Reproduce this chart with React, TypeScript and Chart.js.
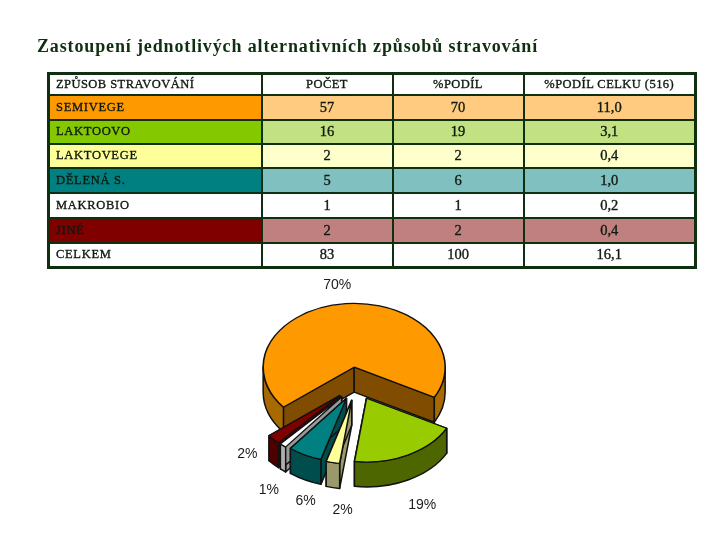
import React, { useEffect, useRef } from "react";
import { Chart, registerables } from "chart.js";

Chart.register(...registerables);

const title = "Zastoupení jednotlivých alternativních způsobů stravování";
const headers = ["ZPŮSOB STRAVOVÁNÍ", "POČET", "%PODÍL", "%PODÍL CELKU (516)"];
const categories = ["SEMIVEGE", "LAKTOOVO", "LAKTOVEGE", "DĚLENÁ S.", "MAKROBIO", "JINÉ", "CELKEM"];
const counts = ["57", "16", "2", "5", "1", "2", "83"];
const shares = ["70", "19", "2", "6", "1", "2", "100"];
const totalShares = ["11,0", "3,1", "0,4", "1,0", "0,2", "0,4", "16,1"];

const pieLabels = ["SEMIVEGE", "LAKTOOVO", "LAKTOVEGE", "DĚLENÁ S.", "MAKROBIO", "JINÉ"];
const pieValues = [57, 16, 2, 5, 1, 2];
const pieText = ["70%", "19%", "2%", "6%", "1%", "2%"];

// styling
const LINE = "#0e2f10";
const labelFills = ["#ff9900", "#84c800", "#ffff99", "#008080", "#ffffff", "#800000", "#ffffff"];
const valueFills = ["#ffcb80", "#c1e183", "#ffffcc", "#80c0c0", "#ffffff", "#c08080", "#ffffff"];
const rowHeights = [21, 25, 24, 24, 25, 25, 25, 25];
const colWidths = [213, 131, 131, 172];

const topFills = ["#ff9900", "#99cc00", "#ffff99", "#008080", "#ffffff", "#800000"];
const cutFills = ["#804d00", "#4d6600", "#99996b", "#004d4d", "#999999", "#4d0000"];
const rimFills = ["#a86a00", "#4d6600", "#99996b", "#004d4d", "#b0b0b0", "#4d0000"];
const explode = [100, 88, 92, 88, 92, 92];
const labelNudge = [[-6, -1], [3, 10], [15, 5], [12, 6], [2, 6], [-8, -22]];
const SQUASH = 0.7;
const DEPTH = 25;
const LABEL_REACH = 116;
const paintOrder = [0, 5, 4, 3, 2, 1];

const trueAngles = (a: any) => {
  const mid = (a.startAngle + a.endAngle) / 2;
  return { mid, start: mid - a.circumference / 2, end: mid + a.circumference / 2 };
};

const pie3d = {
  id: "pie3d",
  beforeDatasetsDraw(chart: any) {
    const { ctx } = chart;
    const meta = chart.getDatasetMeta(0);
    const arcs = meta.data;
    const R = meta.controller.outerRadius;
    const cy = arcs[0].y;

    const sy = (y: number) => cy + (y - cy) * SQUASH;
    const drawPath = (fill: string, build: () => void) => {
      ctx.beginPath();
      build();
      ctx.closePath();
      ctx.fillStyle = fill;
      ctx.fill();
      ctx.lineWidth = 1.5;
      ctx.lineJoin = "round";
      ctx.strokeStyle = "#111";
      ctx.stroke();
    };

    ctx.save();
    paintOrder.forEach((i) => {
      const a = arcs[i];
      const off = (explode[i] || 0) / 4;
      const { mid, start, end } = trueAngles(a);
      const ax = a.x + Math.cos(mid) * off;
      const ay = sy(a.y + Math.sin(mid) * off);
      const px = (t: number) => ax + R * Math.cos(t);
      const py = (t: number) => ay + R * SQUASH * Math.sin(t);

      [start, end].forEach((t) => {
        drawPath(cutFills[i], () => {
          ctx.moveTo(ax, ay);
          ctx.lineTo(px(t), py(t));
          ctx.lineTo(px(t), py(t) + DEPTH);
          ctx.lineTo(ax, ay + DEPTH);
        });
      });

      // the outer wall, only where the rim faces the viewer
      const tau = Math.PI * 2;
      for (let k = -1; k <= 2; k++) {
        const from = Math.max(start, k * tau);
        const to = Math.min(end, k * tau + Math.PI);
        if (to > from) {
          drawPath(rimFills[i], () => {
            ctx.ellipse(ax, ay, R, R * SQUASH, 0, from, to);
            ctx.lineTo(px(to), py(to) + DEPTH);
            ctx.ellipse(ax, ay + DEPTH, R, R * SQUASH, 0, to, from, true);
          });
        }
      }
    });

    // an exploded arc in Chart.js grows by the offset and loses a little angle;
    // give both back so every slice keeps the pie radius and its true span
    arcs.forEach((a: any, i: number) => {
      const off = (explode[i] || 0) / 4;
      const { start, end } = trueAngles(a);
      const grow = off * (1 - Math.sin(Math.min(Math.PI, a.circumference)));
      const pad = grow / Math.PI / R / 2;
      a.outerRadius = R - grow;
      a.startAngle = start - pad;
      a.endAngle = end + pad;
    });
    ctx.restore();

    ctx.save();
    ctx.translate(0, cy);
    ctx.scale(1, SQUASH);
    ctx.translate(0, -cy);
  },
  afterDatasetsDraw(chart: any) {
    const { ctx } = chart;
    ctx.restore();
    const meta = chart.getDatasetMeta(0);
    const cy = meta.data[0].y;
    ctx.save();
    ctx.font = '14px "Liberation Sans"';
    ctx.fillStyle = "#1c1c1c";
    ctx.textAlign = "center";
    ctx.textBaseline = "middle";
    meta.data.forEach((a: any, i: number) => {
      const off = (explode[i] || 0) / 4;
      const mid = (a.startAngle + a.endAngle) / 2;
      const ax = a.x + Math.cos(mid) * off;
      const ay = cy + (a.y + Math.sin(mid) * off - cy) * SQUASH;
      const lx = ax + LABEL_REACH * Math.cos(mid) + labelNudge[i][0];
      const drop = Math.sin(mid) > 0 ? DEPTH : 0;
      const ly = ay + LABEL_REACH * SQUASH * Math.sin(mid) + drop + labelNudge[i][1];
      ctx.fillText(pieText[i], lx, ly);
    });
    ctx.restore();
  },
};

const cellBase: React.CSSProperties = {
  padding: 0,
  borderStyle: "solid",
  borderColor: LINE,
  borderWidth: 2,
  boxSizing: "border-box",
  textAlign: "center",
  verticalAlign: "middle",
  color: "#101a10",
  fontWeight: "normal",
  WebkitTextStroke: "0.35px #101a10",
  overflow: "hidden",
  whiteSpace: "nowrap",
};

export default function App() {
  const ref = useRef<HTMLCanvasElement>(null);
  useEffect(() => {
    if (!ref.current) return;
    const chart = new Chart(ref.current, {
      type: "pie",
      data: {
        labels: pieLabels,
        datasets: [
          {
            data: pieValues,
            backgroundColor: topFills,
            borderColor: "#111",
            borderWidth: 1.6,
            offset: explode,
            radius: 91,
          } as any,
        ],
      },
      options: {
        responsive: false,
        animation: false,
        rotation: 231,
        layout: { padding: { top: 229, right: 7, left: 0, bottom: 0 } },
        plugins: { legend: { display: false }, tooltip: { enabled: false }, title: { display: false } },
      },
      plugins: [pie3d],
    } as any);
    return () => chart.destroy();
  }, []);

  const rows = categories.map((c, i) => [c, counts[i], shares[i], totalShares[i]]);
  return (
    <div style={{ position: "absolute", left: 0, top: 0, width: 720, height: 540, background: "#fff", overflow: "hidden" }}>
      <canvas ref={ref} width={720} height={540} style={{ position: "absolute", left: 0, top: 0, display: "block" }} />
      <div
        style={{
          position: "absolute",
          left: 37,
          top: 36,
          font: 'bold 18px "Liberation Serif"',
          letterSpacing: 0.86,
          color: "#0e2f10",
          whiteSpace: "nowrap",
        }}
      >
        {title}
      </div>
      <table
        style={{
          position: "absolute",
          left: 47,
          top: 72,
          borderCollapse: "collapse",
          tableLayout: "fixed",
          width: colWidths.reduce((a, b) => a + b, 0),
          font: '12px "Liberation Serif"',
          border: `3px solid ${LINE}`,
        }}
      >
        <colgroup>
          {colWidths.map((w, i) => (
            <col key={i} style={{ width: w }} />
          ))}
        </colgroup>
        <tbody>
          <tr style={{ height: rowHeights[0] }}>
            {headers.map((h, i) => (
              <td
                key={h}
                style={{
                  ...cellBase,
                  background: "#fff",
                  fontSize: 12.5,
                  letterSpacing: 0.45,
                  textAlign: i === 0 ? "left" : "center",
                  paddingLeft: i === 0 ? 6 : 0,
                }}
              >
                {h}
              </td>
            ))}
          </tr>
          {rows.map((r, ri) => (
            <tr key={r[0]} style={{ height: rowHeights[ri + 1] }}>
              {r.map((v, ci) => (
                <td
                  key={ci}
                  style={{
                    ...cellBase,
                    background: ci === 0 ? labelFills[ri] : valueFills[ri],
                    fontSize: ci === 0 ? 12.5 : 14.5,
                    letterSpacing: ci === 0 ? 0.7 : 0,
                    textAlign: ci === 0 ? "left" : "center",
                    paddingLeft: ci === 0 ? 6 : 0,
                  }}
                >
                  {v}
                </td>
              ))}
            </tr>
          ))}
        </tbody>
      </table>
    </div>
  );
}
